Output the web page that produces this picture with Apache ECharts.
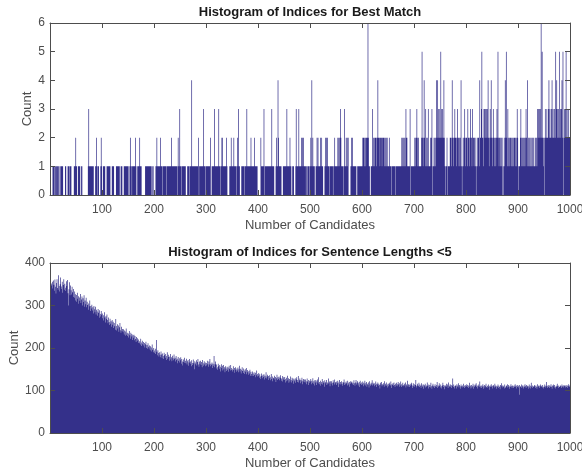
<!DOCTYPE html>
<html>
<head>
<meta charset="utf-8">
<script src="https://cdn.jsdelivr.net/npm/echarts@6/dist/echarts.min.js"></script>
<style>
  html, body { margin: 0; padding: 0; background: #fff; }
  #main { width: 582px; height: 472px; }
</style>
</head>
<body>
<div id="main"></div>
<script>
  // counts per bin (1000 bins, index 1..1000), 10 bins per string
  var bestMatchRows = [
    "0000011101", "1011101100", "1111100001", "1000111011", "1000001112", "1100111100", "1100000000", "0001311111", "1111000112", "1011000121",
    "0011110001", "1111110001", "1110000111", "1111001110", "0011111111", "1001211011", "1111210011", "1121110000", "0001111111", "1111101010",
    "0001121111", "1121110111", "1111011111", "1112111111", "1111102113", "1110111111", "1000111101", "1141111111", "1111120111", "1111131110",
    "1111111120", "0111113111", "1111311101", "2211111112", "1000011121", "1112111101", "2131100011", "1110111131", "1111112111", "1112111110",
    "0000021111", "1301111111", "1111113111", "1000121142", "1111100011", "1111131111", "1211001110", "0013111131", "1112121211", "1101101101",
    "1214121110", "0112121111", "2121100012", "1212111011", "1111011211", "1112121232", "1111013112", "1212000012", "1211111110", "0111111111",
    "1222122122", "2621100111", "3122122122", "4222122212", "2221212121", "1121110111", "1111011111", "1111112121", "2121322111", "1130111111",
    "1212232121", "1111252124", "2131212311", "1212301121", "2124243232", "2532322421", "0112011112", "2124221232", "2123221212", "4101212321",
    "2213221232", "2132212210", "1212214223", "5221332323", "2342123242", "2132212123", "2521221212", "0102142521", "3212122121", "2122121232",
    "1011232121", "2121232142", "1212112121", "2112121323", "2323625212", "0232232234", "2322342322", "3253423235", "2323425023", "2352322322"
  ];
  var bestMatchCounts = bestMatchRows.join('').split('').map(Number);

  var shortSentenceCounts = [
    338, 331, 352, 347, 356, 340, 359, 349, 335, 361,
    344, 328, 353, 362, 341, 337, 371, 346, 333, 350,
    366, 345, 339, 356, 330, 348, 362, 337, 351, 342,
    334, 357, 346, 360, 329, 300, 338, 355, 324, 347,
    336, 326, 344, 331, 320, 339, 318, 333, 327, 312,
    325, 309, 330, 316, 322, 304, 319, 311, 327, 306,
    314, 321, 300, 317, 308, 324, 297, 312, 303, 318,
    296, 309, 301, 290, 305, 298, 312, 287, 299, 293,
    302, 288, 296, 281, 299, 291, 284, 297, 279, 290,
    286, 276, 292, 283, 271, 289, 280, 274, 287, 278,
    281, 270, 277, 265, 284, 272, 260, 275, 268, 279,
    266, 258, 272, 261, 254, 269, 257, 263, 250, 266,
    255, 262, 247, 259, 251, 243, 268, 252, 241, 256,
    246, 253, 238, 249, 259, 242, 236, 250, 240, 245,
    237, 244, 232, 241, 229, 239, 246, 231, 236, 228,
    234, 225, 240, 230, 222, 236, 227, 233, 219, 230,
    224, 231, 218, 228, 221, 214, 226, 217, 223, 212,
    220, 211, 216, 208, 222, 213, 205, 217, 209, 214,
    206, 212, 201, 209, 215, 200, 207, 198, 211, 203,
    199, 206, 195, 204, 192, 201, 208, 196, 190, 200,
    194, 189, 198, 186, 219, 191, 183, 195, 188, 180,
    190, 184, 178, 192, 185, 176, 187, 181, 174, 189,
    183, 177, 186, 172, 181, 190, 175, 184, 179, 170,
    180, 186, 173, 178, 169, 182, 176, 171, 185, 174,
    177, 168, 181, 172, 175, 164, 179, 170, 166, 176,
    171, 178, 163, 174, 168, 159, 173, 167, 177, 165,
    170, 164, 175, 161, 169, 172, 158, 166, 174, 163,
    168, 157, 171, 165, 160, 173, 164, 150, 169, 162,
    166, 171, 159, 167, 174, 161, 156, 168, 163, 170,
    160, 167, 155, 172, 164, 158, 169, 161, 166, 157,
    165, 159, 170, 162, 156, 168, 161, 174, 157, 163,
    160, 166, 153, 163, 158, 181, 155, 162, 168, 152,
    161, 155, 149, 163, 157, 151, 160, 145, 156, 162,
    153, 158, 147, 160, 150, 155, 143, 157, 152, 146,
    156, 149, 154, 144, 158, 151, 147, 160, 148, 153,
    150, 145, 157, 148, 153, 142, 155, 149, 144, 152,
    147, 154, 143, 150, 158, 145, 151, 140, 149, 155,
    146, 141, 152, 147, 139, 150, 144, 153, 138, 148,
    143, 137, 146, 140, 149, 135, 144, 139, 134, 145,
    140, 134, 143, 137, 131, 142, 136, 147, 133, 139,
    135, 141, 130, 138, 133, 127, 140, 134, 129, 137,
    132, 138, 126, 135, 130, 143, 128, 133, 137, 125,
    134, 129, 136, 124, 131, 139, 127, 133, 122, 130,
    128, 135, 126, 132, 120, 129, 137, 125, 131, 127,
    133, 124, 130, 136, 123, 128, 121, 134, 126, 131,
    125, 132, 119, 127, 130, 122, 135, 124, 129, 118,
    127, 121, 133, 125, 119, 130, 123, 128, 116, 126,
    122, 129, 118, 126, 131, 120, 125, 134, 119, 124,
    128, 117, 125, 121, 130, 115, 123, 127, 120, 126,
    119, 126, 122, 115, 128, 121, 113, 125, 118, 123,
    121, 127, 115, 123, 118, 129, 116, 122, 112, 125,
    119, 124, 113, 121, 126, 117, 131, 115, 120, 111,
    123, 116, 120, 127, 114, 122, 118, 109, 124, 117,
    120, 125, 113, 119, 115, 128, 117, 121, 110, 122,
    116, 122, 118, 112, 124, 119, 114, 126, 117, 120,
    113, 121, 117, 123, 108, 119, 125, 115, 120, 114,
    122, 116, 111, 120, 118, 126, 113, 119, 115, 121,
    117, 112, 123, 118, 114, 120, 109, 122, 116, 119,
    121, 115, 118, 113, 124, 117, 111, 119, 125, 114,
    118, 122, 112, 117, 120, 108, 123, 116, 113, 119,
    115, 121, 110, 118, 114, 123, 112, 117, 120, 109,
    116, 113, 119, 107, 122, 115, 111, 118, 114, 124,
    112, 118, 115, 110, 117, 113, 121, 108, 116, 114,
    119, 111, 116, 113, 105, 118, 114, 120, 110, 115,
    113, 117, 109, 122, 112, 116, 111, 119, 107, 114,
    116, 110, 118, 114, 112, 121, 106, 115, 113, 117,
    111, 119, 113, 108, 116, 112, 118, 110, 115, 120,
    114, 109, 117, 112, 121, 108, 115, 111, 118, 113,
    110, 116, 112, 119, 107, 114, 111, 123, 109, 115,
    113, 108, 116, 111, 114, 118, 106, 112, 117, 110,
    115, 109, 113, 125, 111, 107, 116, 112, 110, 118,
    108, 114, 111, 106, 117, 112, 109, 115, 104, 113,
    110, 116, 107, 112, 109, 119, 111, 105, 114, 108,
    113, 107, 118, 110, 104, 112, 116, 109, 111, 106,
    115, 110, 108, 113, 120, 106, 112, 109, 117, 111,
    107, 114, 110, 105, 112, 118, 108, 113, 103, 111,
    112, 108, 116, 110, 114, 106, 119, 111, 109, 115,
    109, 113, 106, 111, 128, 108, 114, 110, 105, 112,
    111, 105, 115, 109, 112, 117, 107, 113, 110, 104,
    114, 110, 107, 112, 108, 116, 111, 106, 113, 109,
    110, 115, 108, 113, 106, 111, 118, 109, 112, 105,
    113, 107, 110, 116, 104, 112, 108, 114, 111, 117,
    108, 112, 105, 110, 114, 109, 121, 107, 111, 106,
    112, 109, 115, 104, 110, 113, 107, 111, 116, 108,
    106, 111, 109, 114, 102, 110, 112, 108, 115, 109,
    111, 105, 113, 110, 107, 116, 109, 112, 104, 110,
    109, 114, 106, 111, 108, 103, 113, 110, 117, 107,
    112, 108, 111, 105, 114, 109, 106, 112, 110, 115,
    107, 113, 109, 104, 111, 108, 115, 110, 106, 112,
    110, 106, 112, 108, 115, 109, 111, 105, 113, 108,
    111, 107, 113, 90, 110, 108, 114, 106, 112, 109,
    105, 112, 108, 115, 110, 106, 113, 109, 111, 104,
    110, 114, 107, 111, 105, 118, 109, 112, 106, 110,
    108, 113, 110, 106, 112, 109, 104, 115, 108, 111,
    112, 106, 110, 114, 108, 111, 107, 113, 109, 105,
    109, 114, 111, 107, 120, 110, 106, 112, 108, 113,
    106, 111, 108, 115, 109, 104, 112, 110, 114, 107,
    113, 109, 105, 111, 108, 116, 110, 106, 112, 109,
    108, 112, 110, 106, 114, 109, 111, 107, 113, 110,
    111, 107, 113, 109, 106, 112, 110, 115, 108, 112
  ];

  var xMax = 1000;
  var barColor = '#34308a';
  var axisColor = '#4d4d4d';

  // put each count at the centre of its bin on the value axis
  function binData(counts) {
    return counts.map(function (c, i) { return [i + 0.5, c]; });
  }

  function xAxes(grid) {
    var base = {
      gridIndex: grid, type: 'value', min: 0, max: xMax, interval: 100, z: 5,
      axisLine: { show: true, onZero: false, lineStyle: { color: axisColor, width: 1 } },
      axisTick: { show: true, inside: true, length: 5, lineStyle: { color: axisColor } },
      splitLine: { show: false }
    };
    var bottom = Object.assign({}, base, {
      position: 'bottom',
      axisLabel: { color: axisColor, fontSize: 12, margin: 9, formatter: function (v) { return v === 0 ? '' : v; } },
      name: 'Number of Candidates', nameLocation: 'middle', nameGap: 24, nameMoveOverlap: false,
      nameTextStyle: { color: axisColor, fontSize: 13 }
    });
    var top = Object.assign({}, base, { position: 'top', axisLabel: { show: false } });
    return [bottom, top];
  }

  function yAxes(grid, max, interval, gap) {
    var base = {
      gridIndex: grid, type: 'value', min: 0, max: max, interval: interval, z: 5,
      axisLine: { show: true, onZero: false, lineStyle: { color: axisColor, width: 1 } },
      axisTick: { show: true, inside: true, length: 5, lineStyle: { color: axisColor } },
      splitLine: { show: false }
    };
    var left = Object.assign({}, base, {
      position: 'left',
      axisLabel: { color: axisColor, fontSize: 12, margin: 5 },
      name: 'Count', nameLocation: 'middle', nameGap: gap, nameMoveOverlap: false,
      nameTextStyle: { color: axisColor, fontSize: 13 }
    });
    var right = Object.assign({}, base, { position: 'right', axisLabel: { show: false } });
    return [left, right];
  }

  function histSeries(x, y, counts) {
    return {
      type: 'bar', xAxisIndex: x, yAxisIndex: y,
      large: true, largeThreshold: 100,
      barWidth: 0.7,
      itemStyle: { color: barColor },
      data: binData(counts)
    };
  }

  var myChart = echarts.init(document.getElementById('main'), null, { renderer: 'canvas' });
  myChart.setOption({
    animation: false,
    textStyle: { fontFamily: 'Liberation Sans, Arial, sans-serif' },
    title: [{
      text: 'Histogram of Indices for Best Match', left: 310, top: 6, textAlign: 'center', padding: 0,
      textStyle: { fontSize: 13, fontWeight: 'bold', color: '#1a1a1a' }
    }, {
      text: 'Histogram of Indices for Sentence Lengths <5', left: 310, top: 246, textAlign: 'center', padding: 0,
      textStyle: { fontSize: 13, fontWeight: 'bold', color: '#1a1a1a' }
    }],
    grid: [
      { left: 50, right: 12, top: 23, height: 172, outerBoundsMode: 'none' },
      { left: 50, right: 12, top: 263, height: 170, outerBoundsMode: 'none' }
    ],
    xAxis: xAxes(0).concat(xAxes(1)),
    yAxis: yAxes(0, 6, 1, 16).concat(yAxes(1, 400, 100, 29)),
    series: [
      histSeries(0, 0, bestMatchCounts),
      histSeries(2, 2, shortSentenceCounts)
    ]
  });
</script>
</body>
</html>
